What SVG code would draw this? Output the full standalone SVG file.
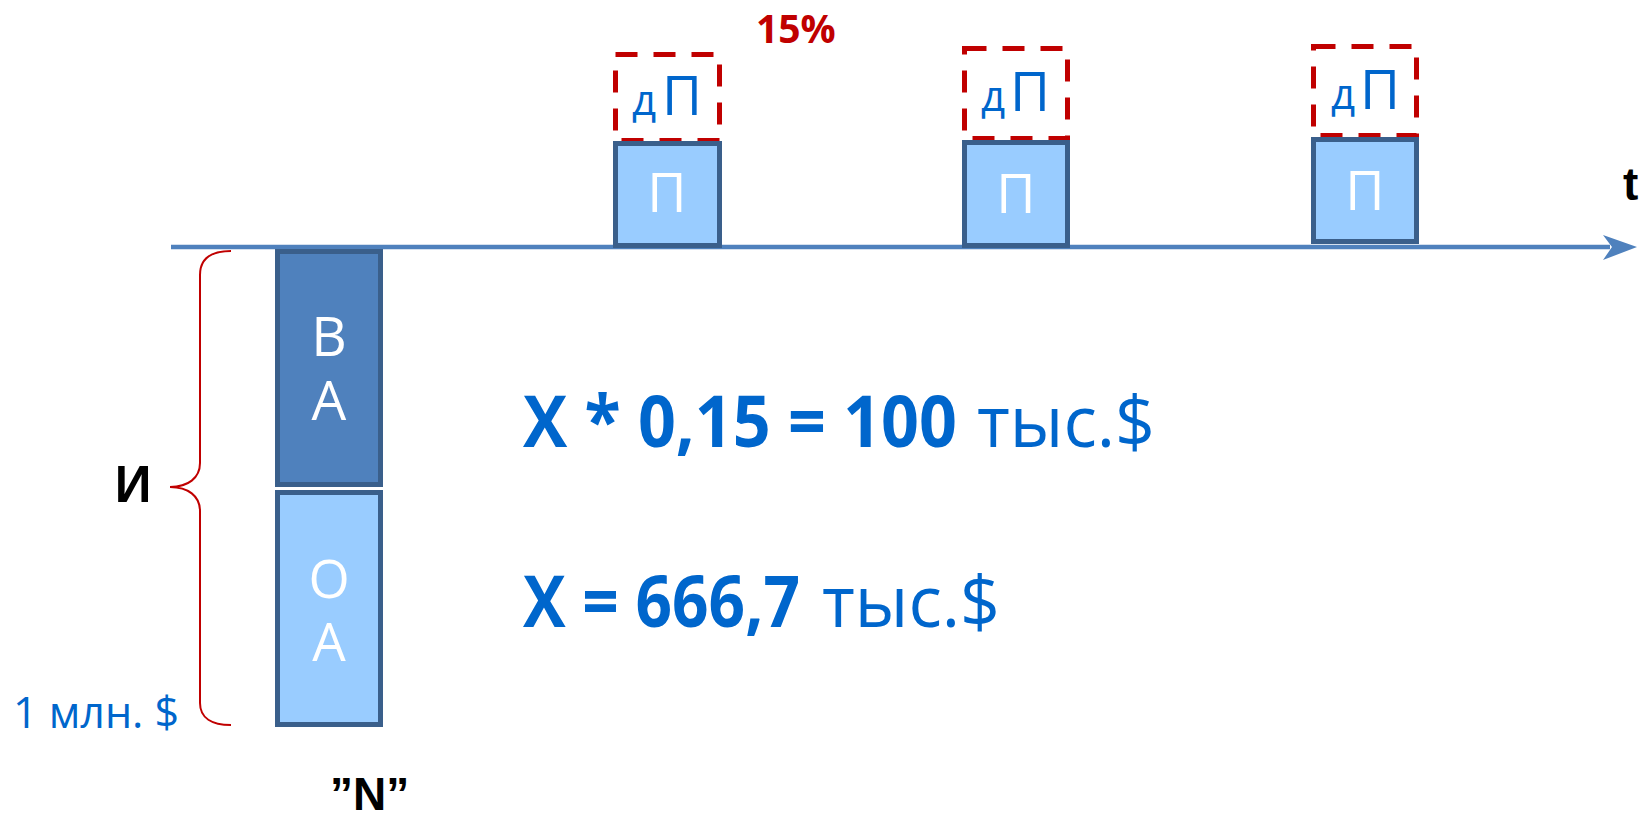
<svg xmlns="http://www.w3.org/2000/svg" width="1641" height="814" viewBox="0 0 1641 814">
<style>
.box{fill:#99CCFF;stroke:#3A5F8B;stroke-width:5}
.boxd{fill:#4F81BD;stroke:#3A5F8B;stroke-width:5}
.dash{fill:none;stroke:#C00000;stroke-width:5;stroke-dasharray:22 16}
.w{fill:#FFFFFF;font-family:"Open Sans",sans-serif;text-anchor:middle}
.b{fill:#0066CC;font-family:"Open Sans",sans-serif}
.k{fill:#000000;font-family:"Liberation Sans",Arial,sans-serif;font-weight:bold}
</style>
<rect width="1641" height="814" fill="#FFFFFF"/>
<g id="connectors">
<line x1="171" y1="247" x2="1610" y2="247" stroke="#4F81BD" stroke-width="4.5"/>
<path d="M1637,247 L1603,235 L1612,247 L1603,260 Z" fill="#4F81BD"/>
<path d="M231,251 C212,251 200,258 200,275 L200,463 C200,478 188,487 170,487 C188,487 200,496 200,511 L200,703 C200,718 212,725 231,725" fill="none" stroke="#C00000" stroke-width="2"/>
</g>
<g id="dp1">
<rect class="dash" x="615.5" y="54.5" width="104" height="86"/>
<text class="b" y="115"><tspan x="632" font-size="42">д</tspan><tspan x="662" font-size="55">П</tspan></text>
</g>
<g id="dp2">
<rect class="dash" x="964.5" y="48.5" width="103" height="90"/>
<text class="b" y="111"><tspan x="981" font-size="42">д</tspan><tspan x="1010" font-size="55">П</tspan></text>
</g>
<g id="dp3">
<rect class="dash" x="1313.5" y="46.5" width="103" height="89"/>
<text class="b" y="109"><tspan x="1331" font-size="42">д</tspan><tspan x="1360" font-size="55">П</tspan></text>
</g>
<g id="p1">
<rect class="box" x="615.5" y="143.5" width="104" height="102"/>
<text class="w" x="667" y="212" font-size="54">П</text>
</g>
<g id="p2">
<rect class="box" x="964.5" y="142.5" width="103" height="103"/>
<text class="w" x="1016" y="213" font-size="54">П</text>
</g>
<g id="p3">
<rect class="box" x="1313.5" y="139.5" width="103" height="102"/>
<text class="w" x="1365" y="210" font-size="54">П</text>
</g>
<g id="va">
<rect class="boxd" x="277.5" y="251.5" width="103" height="233"/>
<text class="w" x="329" y="356" font-size="55">В</text>
<text class="w" x="329" y="420" font-size="55">А</text>
</g>
<g id="oa">
<rect class="box" x="277.5" y="492.5" width="103" height="232"/>
<text class="w" x="329" y="598" font-size="53">О</text>
<text class="w" x="329" y="661" font-size="53">А</text>
</g>
<g id="labels">
<text x="756" y="43" font-family="'Open Sans',sans-serif" font-weight="bold" font-size="39" fill="#C00000">15%</text>
<text class="k" x="1623" y="200" font-size="46">t</text>
<text class="k" x="133" y="502" font-size="51" text-anchor="middle">И</text>
<text class="b" x="13" y="728" font-size="43">1 млн. $</text>
<text class="k" x="330" y="810" font-size="46">”N”</text>
<text class="b" x="523" y="447" font-size="71" font-weight="bold" textLength="434" lengthAdjust="spacingAndGlyphs">X * 0,15 = 100</text>
<text class="b" x="977" y="447" font-size="71" textLength="178" lengthAdjust="spacingAndGlyphs">тыс.$</text>
<text class="b" x="523" y="627" font-size="71" font-weight="bold" textLength="277" lengthAdjust="spacingAndGlyphs">X = 666,7</text>
<text class="b" x="822" y="627" font-size="71" textLength="178" lengthAdjust="spacingAndGlyphs">тыс.$</text>
</g>
</svg>
